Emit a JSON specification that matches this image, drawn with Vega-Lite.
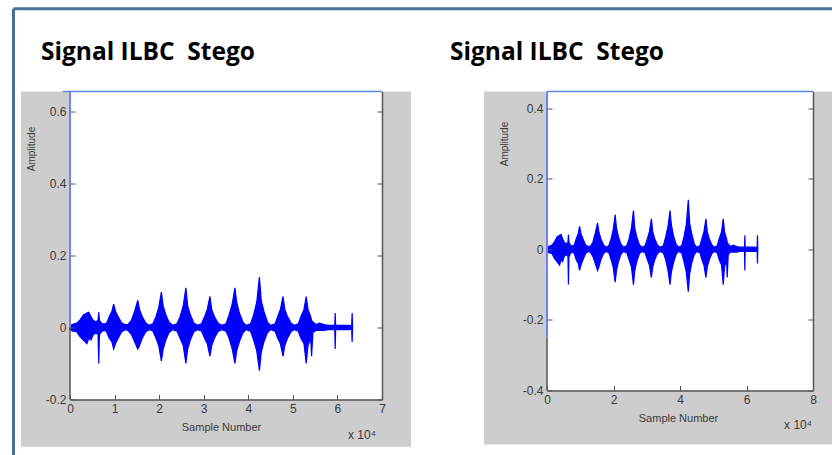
{
  "$schema": "https://vega.github.io/schema/vega-lite/v6.json",
  "background": "white",
  "padding": {"left": 11, "top": 6.5, "right": 0, "bottom": 0},
  "datasets": {
    "one": [{"k": 1}],
    "sig": [
      {"s":0,"hi":0.005,"lo":-0.005},{"s":0.05,"hi":0.008,"lo":-0.01},{"s":0.15,"hi":0.012,"lo":-0.012},{"s":0.22,"hi":0.02,"lo":-0.025},
      {"s":0.3,"hi":0.035,"lo":-0.035},{"s":0.38,"hi":0.04,"lo":-0.045},{"s":0.42,"hi":0.042,"lo":-0.03},{"s":0.47,"hi":0.03,"lo":-0.035},
      {"s":0.52,"hi":0.02,"lo":-0.02},{"s":0.58,"hi":0.015,"lo":-0.015},{"s":0.63,"hi":0.02,"lo":-0.02},{"s":0.645,"hi":0.042,"lo":-0.1},
      {"s":0.66,"hi":0.02,"lo":-0.02},{"s":0.72,"hi":0.01,"lo":-0.01},{"s":0.78,"hi":0.01,"lo":-0.008},
      {"s":0.82,"hi":0.012,"lo":-0.012},{"s":0.88,"hi":0.03,"lo":-0.03},{"s":0.94,"hi":0.045,"lo":-0.04},{"s":0.98,"hi":0.065,"lo":-0.06},
      {"s":1.02,"hi":0.045,"lo":-0.045},{"s":1.08,"hi":0.03,"lo":-0.03},{"s":1.16,"hi":0.012,"lo":-0.012},{"s":1.24,"hi":0.008,"lo":-0.006},
      {"s":1.3,"hi":0.008,"lo":-0.008},{"s":1.38,"hi":0.02,"lo":-0.02},{"s":1.45,"hi":0.045,"lo":-0.04},{"s":1.52,"hi":0.075,"lo":-0.06},
      {"s":1.56,"hi":0.05,"lo":-0.05},{"s":1.62,"hi":0.03,"lo":-0.03},{"s":1.7,"hi":0.012,"lo":-0.012},{"s":1.78,"hi":0.006,"lo":-0.006},
      {"s":1.86,"hi":0.01,"lo":-0.01},{"s":1.93,"hi":0.03,"lo":-0.03},{"s":1.99,"hi":0.055,"lo":-0.05},{"s":2.05,"hi":0.098,"lo":-0.093},
      {"s":2.09,"hi":0.06,"lo":-0.06},{"s":2.15,"hi":0.035,"lo":-0.035},{"s":2.22,"hi":0.015,"lo":-0.015},{"s":2.3,"hi":0.006,"lo":-0.006},
      {"s":2.4,"hi":0.01,"lo":-0.01},{"s":2.47,"hi":0.03,"lo":-0.03},{"s":2.54,"hi":0.06,"lo":-0.05},{"s":2.6,"hi":0.11,"lo":-0.1},
      {"s":2.64,"hi":0.06,"lo":-0.06},{"s":2.7,"hi":0.035,"lo":-0.035},{"s":2.78,"hi":0.012,"lo":-0.012},{"s":2.86,"hi":0.006,"lo":-0.006},
      {"s":2.95,"hi":0.01,"lo":-0.01},{"s":3.02,"hi":0.03,"lo":-0.03},{"s":3.08,"hi":0.05,"lo":-0.045},{"s":3.14,"hi":0.086,"lo":-0.08},
      {"s":3.18,"hi":0.05,"lo":-0.05},{"s":3.24,"hi":0.03,"lo":-0.03},{"s":3.32,"hi":0.012,"lo":-0.012},{"s":3.4,"hi":0.006,"lo":-0.006},
      {"s":3.5,"hi":0.01,"lo":-0.01},{"s":3.57,"hi":0.035,"lo":-0.03},{"s":3.64,"hi":0.065,"lo":-0.06},{"s":3.7,"hi":0.11,"lo":-0.1},
      {"s":3.74,"hi":0.07,"lo":-0.065},{"s":3.8,"hi":0.04,"lo":-0.04},{"s":3.88,"hi":0.015,"lo":-0.015},{"s":3.95,"hi":0.006,"lo":-0.006},
      {"s":4.05,"hi":0.01,"lo":-0.01},{"s":4.12,"hi":0.035,"lo":-0.035},{"s":4.19,"hi":0.07,"lo":-0.065},{"s":4.25,"hi":0.14,"lo":-0.12},
      {"s":4.29,"hi":0.075,"lo":-0.07},{"s":4.35,"hi":0.045,"lo":-0.04},{"s":4.43,"hi":0.015,"lo":-0.015},{"s":4.5,"hi":0.006,"lo":-0.006},
      {"s":4.6,"hi":0.01,"lo":-0.01},{"s":4.66,"hi":0.03,"lo":-0.03},{"s":4.72,"hi":0.05,"lo":-0.045},{"s":4.78,"hi":0.086,"lo":-0.08},
      {"s":4.82,"hi":0.05,"lo":-0.05},{"s":4.88,"hi":0.03,"lo":-0.03},{"s":4.96,"hi":0.012,"lo":-0.012},{"s":5.03,"hi":0.006,"lo":-0.006},
      {"s":5.12,"hi":0.01,"lo":-0.01},{"s":5.18,"hi":0.03,"lo":-0.03},{"s":5.25,"hi":0.05,"lo":-0.045},{"s":5.3,"hi":0.086,"lo":-0.1},
      {"s":5.34,"hi":0.05,"lo":-0.05},{"s":5.4,"hi":0.03,"lo":-0.03},{"s":5.42,"hi":0.02,"lo":-0.08},{"s":5.45,"hi":0.015,"lo":-0.015},
      {"s":5.52,"hi":0.008,"lo":-0.008},{"s":5.6,"hi":0.012,"lo":-0.008},{"s":5.7,"hi":0.008,"lo":-0.008},{"s":5.8,"hi":0.006,"lo":-0.006},
      {"s":5.94,"hi":0.006,"lo":-0.006},{"s":5.95,"hi":0.04,"lo":-0.06},{"s":5.96,"hi":0.006,"lo":-0.006},{"s":6.1,"hi":0.006,"lo":-0.006},
      {"s":6.25,"hi":0.006,"lo":-0.006},{"s":6.32,"hi":0.005,"lo":-0.005},{"s":6.33,"hi":0.04,"lo":-0.04},{"s":6.34,"hi":0.004,"lo":-0.004}
    ]
  },
  "config": {
    "view": {"stroke": null},
    "axis": {
      "zindex": 1, "grid": false,
      "domainColor": "#555555", "domainWidth": 1.5,
      "tickColor": "#555555", "tickSize": -5, "tickWidth": 1,
      "labelPadding": 9, "labelFont": "Liberation Sans", "labelFontSize": 12, "labelColor": "#3a3a3a",
      "labelFlush": false, "labelOverlap": false,
      "titleFont": "Liberation Sans", "titleFontWeight": "normal", "titleColor": "#3a3a3a"
    },
    "title": {"font": "Open Sans", "fontWeight": "bold", "fontSize": 24.5, "color": "#000000", "anchor": "start", "frame": "group", "baseline": "alphabetic"}
  },
  "hconcat": [
    {
      "width": 312, "height": 308,
      "data": {"name": "one"},
      "title": {"text": "Signal ILBC\u00a0 Stego", "dx": -29, "dy": 89, "offset": 31},
      "resolve": {"axis": {"x": "independent", "y": "independent"}},
      "layer": [
        {
          "mark": {"type": "rect", "color": "#cdcdcd", "clip": false},
          "encoding": {
            "x": {"datum": -1.1, "type": "quantitative", "scale": {"domain": [0, 7], "nice": false, "zero": false}, "axis": null},
            "x2": {"datum": 7.65},
            "y": {"datum": 0.655, "type": "quantitative", "scale": {"domain": [-0.2, 0.655], "nice": false, "zero": false}, "axis": null},
            "y2": {"datum": -0.331}
          }
        },
        {
          "mark": {"type": "rect", "color": "#ffffff"},
          "encoding": {
            "x": {"datum": 0, "type": "quantitative", "scale": {"domain": [0, 7], "nice": false, "zero": false}, "axis": null},
            "x2": {"datum": 7},
            "y": {"datum": 0.655, "type": "quantitative", "scale": {"domain": [-0.2, 0.655], "nice": false, "zero": false},
                  "axis": {"zindex": 2, "orient": "right", "labels": false, "title": null, "values": [-0.2, 0, 0.2, 0.4, 0.6], "domain": true}},
            "y2": {"datum": -0.2}
          }
        },
        {
          "data": {"name": "sig"},
          "mark": {"type": "area", "color": "#0000ff", "stroke": "#0000ff", "strokeWidth": 1.2, "opacity": 1},
          "encoding": {
            "x": {"field": "s", "type": "quantitative", "scale": {"domain": [0, 7], "nice": false, "zero": false},
                  "axis": {"zindex": 2, "values": [0,1,2,3,4,5,6,7], "title": "Sample Number", "titleFontSize": 11, "titleX": 151, "titleY": 28, "titleAnchor": null, "titleBaseline": "middle"}},
            "y": {"field": "hi", "type": "quantitative", "scale": {"domain": [-0.2, 0.655], "nice": false, "zero": false},
                  "axis": {"zindex": 2, "domain": false, "values": [-0.2, 0, 0.2, 0.4, 0.6], "title": "Amplitude", "titleFontSize": 10, "titleX": -39, "titleY": 57, "titleAngle": 270, "titleAlign": "center", "titleBaseline": "middle",
                           "labelExpr": "datum.value < 0 ? '-' + format(-datum.value, '~g') : format(datum.value, '~g')"}},
            "y2": {"field": "lo"}
          }
        },
        {
          "mark": {"type": "rule", "color": "#555555", "strokeWidth": 1.5},
          "encoding": {
            "x": {"datum": 0, "type": "quantitative", "scale": {"domain": [0, 7], "nice": false, "zero": false}, "axis": null},
            "y": {"datum": 0, "type": "quantitative", "scale": {"domain": [-0.2, 0.655], "nice": false, "zero": false}, "axis": null},
            "y2": {"datum": -0.2}
          }
        },
        {
          "mark": {"type": "rule", "color": "#5f86d8", "strokeWidth": 1.5},
          "encoding": {
            "x": {"datum": -0.165, "type": "quantitative", "scale": {"domain": [0, 7], "nice": false, "zero": false}, "axis": null},
            "x2": {"datum": 7},
            "y": {"datum": 0.655, "type": "quantitative", "scale": {"domain": [-0.2, 0.655], "nice": false, "zero": false}, "axis": null}
          }
        },
        {
          "mark": {"type": "rule", "color": "#7080ff", "strokeWidth": 2},
          "encoding": {
            "x": {"datum": 0, "type": "quantitative", "scale": {"domain": [0, 7], "nice": false, "zero": false}, "axis": null},
            "y": {"datum": 0.655, "type": "quantitative", "scale": {"domain": [-0.2, 0.655], "nice": false, "zero": false}, "axis": null},
            "y2": {"datum": 0}
          }
        },
        {
          "mark": {"type": "text", "text": "x 10\u2074", "font": "Liberation Sans", "fontSize": 12, "color": "#3a3a3a", "align": "center", "baseline": "alphabetic"},
          "encoding": {
            "x": {"datum": 6.55, "type": "quantitative", "scale": {"domain": [0, 7], "nice": false, "zero": false}, "axis": null},
            "y": {"datum": -0.31, "type": "quantitative", "scale": {"domain": [-0.2, 0.655], "nice": false, "zero": false}, "axis": null}
          }
        },
        {
          "mark": {"type": "rule", "color": "#4a6f98", "strokeWidth": 3},
          "encoding": {
            "x": {"datum": -1.268, "type": "quantitative", "scale": {"domain": [0, 7], "nice": false, "zero": false}, "axis": null},
            "x2": {"datum": 17.12},
            "y": {"datum": 0.885, "type": "quantitative", "scale": {"domain": [-0.2, 0.655], "nice": false, "zero": false}, "axis": null}
          }
        },
        {
          "mark": {"type": "rule", "color": "#4a6f98", "strokeWidth": 3},
          "encoding": {
            "x": {"datum": -1.268, "type": "quantitative", "scale": {"domain": [0, 7], "nice": false, "zero": false}, "axis": null},
            "y": {"datum": 0.885, "type": "quantitative", "scale": {"domain": [-0.2, 0.655], "nice": false, "zero": false}, "axis": null},
            "y2": {"datum": -0.356}
          }
        }
      ]
    },
    {
      "width": 266, "height": 299,
      "data": {"name": "one"},
      "title": {"text": "Signal ILBC\u00a0 Stego", "dx": -97, "dy": 6, "offset": 31},
      "resolve": {"axis": {"x": "independent", "y": "independent"}},
      "layer": [
        {
          "mark": {"type": "rect", "color": "#cdcdcd", "clip": false},
          "encoding": {
            "x": {"datum": -1.895, "type": "quantitative", "scale": {"domain": [0, 8], "nice": false, "zero": false}, "axis": null},
            "x2": {"datum": 8.6},
            "y": {"datum": 0.447, "type": "quantitative", "scale": {"domain": [-0.4, 0.447], "nice": false, "zero": false}, "axis": null},
            "y2": {"datum": -0.553}
          }
        },
        {
          "mark": {"type": "rect", "color": "#ffffff"},
          "encoding": {
            "x": {"datum": 0, "type": "quantitative", "scale": {"domain": [0, 8], "nice": false, "zero": false}, "axis": null},
            "x2": {"datum": 8},
            "y": {"datum": 0.447, "type": "quantitative", "scale": {"domain": [-0.4, 0.447], "nice": false, "zero": false},
                  "axis": {"zindex": 2, "orient": "right", "labels": false, "title": null, "values": [-0.4, -0.2, 0, 0.2, 0.4], "domain": true}},
            "y2": {"datum": -0.4}
          }
        },
        {
          "data": {"name": "sig"},
          "mark": {"type": "area", "color": "#0000ff", "stroke": "#0000ff", "strokeWidth": 1.2, "opacity": 1},
          "encoding": {
            "x": {"field": "s", "type": "quantitative", "scale": {"domain": [0, 8], "nice": false, "zero": false},
                  "axis": {"zindex": 2, "values": [0,2,4,6,8], "title": "Sample Number", "titleFontSize": 11, "titleX": 131, "titleY": 28, "titleAnchor": null, "titleBaseline": "middle"}},
            "y": {"field": "hi", "type": "quantitative", "scale": {"domain": [-0.4, 0.447], "nice": false, "zero": false},
                  "axis": {"zindex": 2, "domain": false, "values": [-0.4, -0.2, 0, 0.2, 0.4], "title": "Amplitude", "titleFontSize": 10, "titleX": -43, "titleY": 52, "titleAngle": 270, "titleAlign": "center", "titleBaseline": "middle",
                           "labelExpr": "datum.value < 0 ? '-' + format(-datum.value, '~g') : format(datum.value, '~g')"}},
            "y2": {"field": "lo"}
          }
        },
        {
          "mark": {"type": "rule", "color": "#555555", "strokeWidth": 1.5},
          "encoding": {
            "x": {"datum": 0, "type": "quantitative", "scale": {"domain": [0, 8], "nice": false, "zero": false}, "axis": null},
            "y": {"datum": -0.25, "type": "quantitative", "scale": {"domain": [-0.4, 0.447], "nice": false, "zero": false}, "axis": null},
            "y2": {"datum": -0.4}
          }
        },
        {
          "mark": {"type": "rule", "color": "#5f86d8", "strokeWidth": 1.5},
          "encoding": {
            "x": {"datum": 0, "type": "quantitative", "scale": {"domain": [0, 8], "nice": false, "zero": false}, "axis": null},
            "x2": {"datum": 8},
            "y": {"datum": 0.447, "type": "quantitative", "scale": {"domain": [-0.4, 0.447], "nice": false, "zero": false}, "axis": null}
          }
        },
        {
          "mark": {"type": "rule", "color": "#7080ff", "strokeWidth": 2},
          "encoding": {
            "x": {"datum": 0, "type": "quantitative", "scale": {"domain": [0, 8], "nice": false, "zero": false}, "axis": null},
            "y": {"datum": 0.447, "type": "quantitative", "scale": {"domain": [-0.4, 0.447], "nice": false, "zero": false}, "axis": null},
            "y2": {"datum": -0.25}
          }
        },
        {
          "mark": {"type": "text", "text": "x 10\u2074", "font": "Liberation Sans", "fontSize": 12, "color": "#3a3a3a", "align": "center", "baseline": "alphabetic"},
          "encoding": {
            "x": {"datum": 7.55, "type": "quantitative", "scale": {"domain": [0, 8], "nice": false, "zero": false}, "axis": null},
            "y": {"datum": -0.51, "type": "quantitative", "scale": {"domain": [-0.4, 0.447], "nice": false, "zero": false}, "axis": null}
          }
        }
      ]
    }
  ],
  "bounds": "flush",
  "spacing": 165
}
